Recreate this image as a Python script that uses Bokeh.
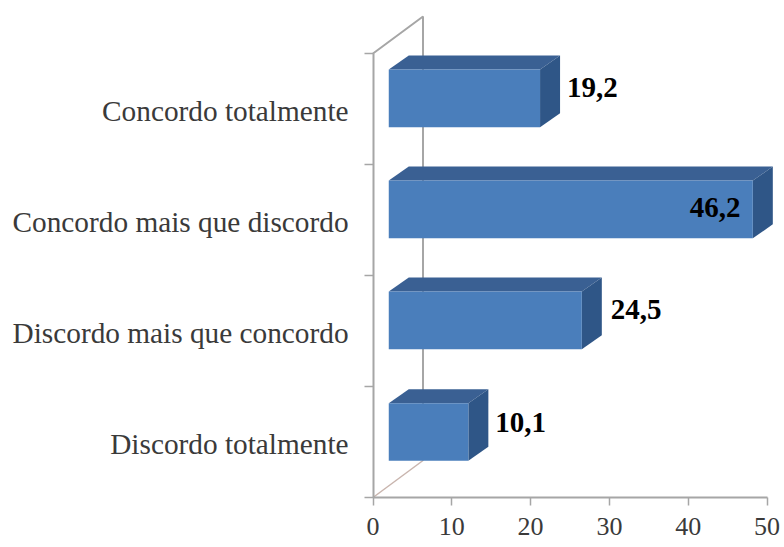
from bokeh.plotting import figure
from bokeh.models import ColumnDataSource, LinearAxis, FixedTicker, Range1d
from bokeh.core.properties import value
from bokeh.embed import file_html
from bokeh.resources import INLINE

categories = ["Discordo totalmente", "Discordo mais que concordo", "Concordo mais que discordo", "Concordo totalmente"]
values = [10.1, 24.5, 46.2, 19.2]
value_labels = ["10,1", "24,5", "46,2", "19,2"]
x_ticks = [0, 10, 20, 30, 40, 50]

# layout constants
W, H = 784, 547
UX, UY = 7.88, 111.0        # px per data unit
X0, Y0 = 372.5, 497.0       # axis origin inside the figure, px
BASE = 2.0                  # bar start along x
BAR_H = 0.52
BAR_POS = [0.59, 1.595, 2.595, 3.595]
LABEL_POS = [0.48, 1.48, 2.48, 3.48]
DX, DY = 20 / UX, 14 / UY   # bar depth
WX, WY = 50 / UX, 37 / UY   # wall depth
LABEL_DX = [27, 29, -63, 27]
LABEL_DY = [10, 11, 2, 11]

FRONT, TOP, SIDE = "#4a7ebb", "#3a6093", "#2f5687"
GREY = "#a6a6a6"
SERIF = "Liberation Serif"

p = figure(width=W, height=H, output_backend="svg", toolbar_location=None,
           x_range=Range1d(-X0 / UX, (W - X0) / UX),
           y_range=Range1d(-(H - Y0) / UY, Y0 / UY),
           min_border=0, x_axis_type=None, y_axis_type=None)
p.outline_line_color = None
p.grid.visible = False

# walls
p.line([0, WX, WX], [4, 4 + WY, WY], line_color=GREY, line_width=2)
p.line([0, WX], [0, WY], line_color="#c9b5ae", line_width=1.5)

# bars
lefts = [BASE] * len(values)
rights = [BASE + v for v in values]
bottoms = [c - BAR_H / 2 for c in BAR_POS]
tops = [c + BAR_H / 2 for c in BAR_POS]
p.patches([[l, l + DX, r + DX, r] for l, r in zip(lefts, rights)],
          [[t, t + DY, t + DY, t] for t in tops], fill_color=TOP, line_color=None)
p.patches([[r, r + DX, r + DX, r] for r in rights],
          [[t, t + DY, b + DY, b] for t, b in zip(tops, bottoms)], fill_color=SIDE, line_color=None)
p.quad(left=lefts, right=rights, bottom=bottoms, top=tops, fill_color=FRONT, line_color=None)

# value labels
src = ColumnDataSource(dict(x=rights, y=BAR_POS, t=value_labels, dx=LABEL_DX,
                            yo=[-d for d in LABEL_DY]))
p.text(x="x", y="y", text="t", source=src, x_offset="dx", y_offset="yo",
       text_font=value(SERIF), text_font_style="bold", text_font_size="29px",
       text_color="#000000", text_align="left", text_baseline="middle")

# axes
xa = LinearAxis(fixed_location=0, ticker=FixedTicker(ticks=x_ticks), bounds=(0, 50))
xa.axis_line_color = GREY
xa.axis_line_width = 2
xa.major_tick_line_color = GREY
xa.major_tick_line_width = 1.5
xa.major_tick_in = 0
xa.major_tick_out = 8
xa.minor_tick_line_color = None
xa.major_label_standoff = 12
xa.major_label_text_font = SERIF
xa.major_label_text_font_size = "26px"
xa.major_label_text_color = "#3a3a3a"
p.add_layout(xa, "below")

y_boundaries = [0, 1, 2, 3, 4]
ya = LinearAxis(fixed_location=0, ticker=FixedTicker(ticks=y_boundaries), bounds=(0, 4),
                major_label_overrides={b: "" for b in y_boundaries})
ya.axis_line_color = GREY
ya.axis_line_width = 2
ya.major_tick_line_color = GREY
ya.major_tick_line_width = 1.5
ya.major_tick_in = 0
ya.major_tick_out = 9
ya.minor_tick_line_color = None
p.add_layout(ya, "left")

ca = LinearAxis(fixed_location=-3.1, ticker=FixedTicker(ticks=LABEL_POS),
                major_label_overrides=dict(zip(LABEL_POS, categories)))
ca.axis_line_color = None
ca.major_tick_line_color = None
ca.minor_tick_line_color = None
ca.major_tick_in = 0
ca.major_tick_out = 0
ca.major_label_standoff = 0
ca.major_label_text_font = SERIF
ca.major_label_text_font_size = "29.3px"
ca.major_label_text_color = "#3a3a3a"
p.add_layout(ca, "left")

open("out.html", "w").write(file_html(p, INLINE))
